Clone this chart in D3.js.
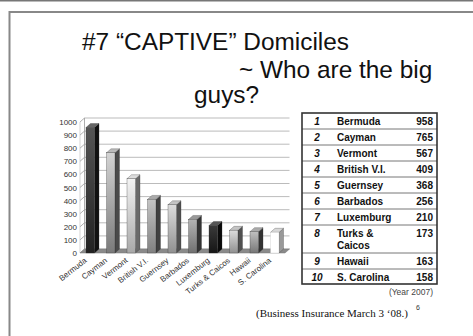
<!DOCTYPE html>
<html><head><meta charset="utf-8">
<script src="https://cdn.jsdelivr.net/npm/d3@7"></script>
<style>html,body{margin:0;padding:0;background:#fff;}svg{display:block;}</style>
</head><body>
<script>
const categories = ["Bermuda","Cayman","Vermont","British V.I.","Guernsey","Barbados","Luxemburg","Turks & Caicos","Hawaii","S. Carolina"];
const values = [958,765,567,409,368,256,210,173,163,158];
const ranks = ["1","2","3","4","5","6","7","8","9","10"];
const tableNames = ["Bermuda","Cayman","Vermont","British V.I.","Guernsey","Barbados","Luxemburg","Turks &\nCaicos","Hawaii","S. Carolina"];
const yTicks = [0,100,200,300,400,500,600,700,800,900,1000];
const titleLines = ["#7 \u201CCAPTIVE\u201D Domiciles","~ Who are the big","guys?"];

// per-bar styling (front gradient top, bottom, side, cap)
const palette = [
  ["#555","#222","#111","#666"],
  ["#d4d4d4","#7a7a7a","#4a4a4a","#bbb"],
  ["#f4f4f4","#a8a8a8","#6a6a6a","#ddd"],
  ["#c4c4c4","#808080","#404040","#aaa"],
  ["#dcdcdc","#909090","#505050","#c4c4c4"],
  ["#b4b4b4","#707070","#333","#999"],
  ["#3a3a3a","#151515","#0a0a0a","#555"],
  ["#dcdcdc","#909090","#505050","#c4c4c4"],
  ["#c0c0c0","#777","#333","#aaa"],
  ["#ffffff","#ffffff","#999","#d8d8d8"]
];

const W = 473, H = 336;
const svg = d3.select("body").append("svg").attr("width", W).attr("height", H);

// slide frame
svg.append("line").attr("x1",0).attr("x2",W).attr("y1",0.5).attr("y2",0.5).attr("stroke","#777").attr("stroke-width",2);
svg.append("line").attr("x1",9).attr("x2",W).attr("y1",12).attr("y2",12).attr("stroke","#888").attr("stroke-width",2);
svg.append("line").attr("x1",9.5).attr("x2",9.5).attr("y1",11).attr("y2",H).attr("stroke","#888").attr("stroke-width",2);

// title
const tPos = [[82,50,"start"],[239,78,"start"],[194,103,"start"]];
titleLines.forEach((t,i)=>{
  svg.append("text").attr("x",tPos[i][0]).attr("y",tPos[i][1]).attr("text-anchor",tPos[i][2])
    .attr("font-family","Arial, 'Liberation Sans', sans-serif").attr("font-size",24.4).attr("fill","#111").text(t);
});

// chart
const dx = 4.5, dy = -4;
const x = d3.scaleBand().domain(categories).range([80,285]).paddingInner(0).paddingOuter(0);
const y = d3.scaleLinear().domain([0,1000]).range([253,122]);
const g = svg.append("g");
const defs = svg.append("defs");

// back wall gridlines
yTicks.forEach(t=>{
  g.append("line").attr("x1",80).attr("y1",y(t)).attr("x2",80+dx).attr("y2",y(t)+dy).attr("stroke","#999").attr("stroke-width",0.8);
  g.append("line").attr("x1",80+dx).attr("y1",y(t)+dy).attr("x2",285+dx).attr("y2",y(t)+dy).attr("stroke","#aaa").attr("stroke-width",0.8);
});
g.append("line").attr("x1",80+dx).attr("x2",80+dx).attr("y1",y(0)+dy).attr("y2",y(1000)+dy).attr("stroke","#999").attr("stroke-width",0.8);
g.append("line").attr("x1",80).attr("x2",80).attr("y1",y(0)).attr("y2",y(1000)).attr("stroke","#bbb").attr("stroke-width",0.6);

// floor
g.append("path").attr("d",`M80,${y(0)}L285,${y(0)}L${285+dx},${y(0)+dy}L${80+dx},${y(0)+dy}Z`).attr("fill","#8a8a8a").attr("stroke","#777").attr("stroke-width",0.5);

// y labels
const yAxis = d3.axisLeft(y).tickValues(yTicks).tickFormat(d3.format("d")).tickSize(0).tickPadding(3);
const ya = svg.append("g").attr("transform","translate(80,0)").call(yAxis);
ya.select(".domain").remove();
ya.selectAll("text").attr("font-family","Arial, 'Liberation Sans', sans-serif").attr("font-size",8).attr("fill","#333");

// bars
const bw = 8.5;
categories.forEach((c,i)=>{
  const p = palette[i];
  const gid = "grad"+i;
  const lg = defs.append("linearGradient").attr("id",gid).attr("x1",0).attr("y1",0).attr("x2",0).attr("y2",1);
  lg.append("stop").attr("offset","0%").attr("stop-color",p[0]);
  lg.append("stop").attr("offset","100%").attr("stop-color",p[1]);
  const x0 = x(c)+6, x1 = x0+bw;
  const yt = y(values[i]), yb = y(0);
  g.append("path").attr("d",`M${x1},${yb}L${x1+dx},${yb+dy}L${x1+dx},${yt+dy}L${x1},${yt}Z`).attr("fill",p[2]).attr("stroke","#333").attr("stroke-width",0.3);
  g.append("path").attr("d",`M${x0},${yt}L${x1},${yt}L${x1+dx},${yt+dy}L${x0+dx},${yt+dy}Z`).attr("fill",p[3]).attr("stroke","#333").attr("stroke-width",0.3);
  g.append("rect").attr("x",x0).attr("y",yt).attr("width",bw).attr("height",yb-yt).attr("fill",`url(#${gid})`).attr("stroke", i===9?"#bbb":"#333").attr("stroke-width",0.3);
});

// x labels
categories.forEach((c,i)=>{
  const cx = x(c)+x.bandwidth()/2 - 3;
  svg.append("text").attr("transform",`translate(${cx},${y(0)+8.5}) rotate(-38)`).attr("text-anchor","end")
    .attr("font-family","Arial, 'Liberation Sans', sans-serif").attr("font-size",8).attr("fill","#333").text(c);
});

// table
const tx0 = 302, tx1 = 437;
const rowH = [16,16,16,16,16,16,16,28,16,15];
let ry = 113;
const tg = svg.append("g");
const F = "Arial, 'Liberation Sans', sans-serif";
ranks.forEach((r,i)=>{
  const h = rowH[i];
  if(i>0) tg.append("line").attr("x1",tx0).attr("x2",tx1).attr("y1",ry).attr("y2",ry).attr("stroke","#777").attr("stroke-width",1);
  const by = ry + 11.5;
  tg.append("text").attr("x",317).attr("y",by).attr("text-anchor","middle").attr("font-family",F).attr("font-size",10).attr("font-weight","bold").attr("font-style","italic").attr("fill","#111").text(r);
  const lines = tableNames[i].split("\n");
  lines.forEach((l,k)=>{
    tg.append("text").attr("x",337).attr("y",by+k*12).attr("font-family",F).attr("font-size",10).attr("font-weight","bold").attr("fill","#111").text(l);
  });
  tg.append("text").attr("x",433).attr("y",by).attr("text-anchor","end").attr("font-family",F).attr("font-size",10).attr("font-weight","bold").attr("fill","#111").text(values[i]);
  ry += h;
});
tg.append("rect").attr("x",tx0).attr("y",113).attr("width",tx1-tx0).attr("height",ry-113).attr("fill","none").attr("stroke","#333").attr("stroke-width",1.6);

svg.append("text").attr("x",433).attr("y",295).attr("text-anchor","end").attr("font-family",F).attr("font-size",8.5).attr("fill","#444").text("(Year 2007)");
svg.append("text").attr("x",256).attr("y",317).attr("font-family","'Times New Roman', 'Liberation Serif', serif").attr("font-size",11).attr("fill","#111").text("(Business Insurance March 3 \u201808.)");
svg.append("text").attr("x",416).attr("y",310).attr("font-family",F).attr("font-size",7).attr("fill","#333").text("6");
</script>
</body></html>
